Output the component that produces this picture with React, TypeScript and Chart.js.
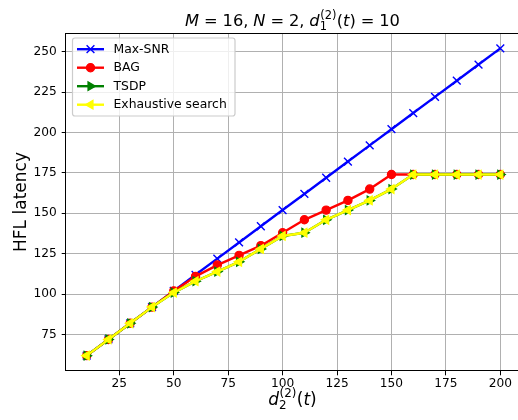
import { useEffect, useRef } from "react";
import { Chart, registerables } from "chart.js";

Chart.register(...registerables);

// ---- data ----
const xValues = [10, 20, 30, 40, 50, 60, 70, 80, 90, 100, 110, 120, 130, 140, 150, 160, 170, 180, 190, 200];
const maxSnr = [62, 72, 82, 92, 102, 112, 122, 132, 142, 152, 162, 172, 182, 192, 202, 212, 222, 232, 242, 252];
const bag = [62, 72, 82, 92, 102, 111, 118, 124, 130, 138, 146, 152, 158, 165, 174, 174, 174, 174, 174, 174];
const tsdp = [62, 72, 82, 92, 101, 108, 114, 120, 128, 136, 138, 146, 152, 158, 165, 174, 174, 174, 174, 174];
const exhaustive = [62, 72, 82, 92, 101, 108, 114, 120, 128, 136, 138, 146, 152, 158, 165, 174, 174, 174, 174, 174];
const xTicks = [25, 50, 75, 100, 125, 150, 175, 200];
const yTicks = [75, 100, 125, 150, 175, 200, 225, 250];
const seriesLabels = ["Max-SNR", "BAG", "TSDP", "Exhaustive search"];
const yAxisLabel = "HFL latency";

const FONT = '"DejaVu Sans"';

type Seg = { t?: string; it?: boolean; gap?: number; sup?: string; sub?: string };

function drawMath(ctx: CanvasRenderingContext2D, segs: Seg[], cx: number, base: number, size: number) {
  const sc = size * 0.7;
  const fR = (s: number) => `${s}px ${FONT}`;
  const fI = (s: number) => `italic ${s}px ${FONT}`;
  const widthOf = (seg: Seg) => {
    if (seg.gap !== undefined) return seg.gap * size;
    if (seg.sup !== undefined) {
      ctx.font = fR(sc);
      const a = ctx.measureText(seg.sup).width;
      const b = ctx.measureText(seg.sub || "").width;
      return Math.max(a, b) + size * 0.05;
    }
    ctx.font = seg.it ? fI(size) : fR(size);
    return ctx.measureText(seg.t || "").width;
  };
  const total = segs.reduce((s, g) => s + widthOf(g), 0);
  let x = cx - total / 2;
  ctx.fillStyle = "#000";
  ctx.textAlign = "left";
  ctx.textBaseline = "alphabetic";
  for (const seg of segs) {
    const w = widthOf(seg);
    if (seg.sup !== undefined) {
      ctx.font = fR(sc);
      ctx.fillText(seg.sup, x + size * 0.03, base - size * 0.45);
      ctx.fillText(seg.sub || "", x, base + size * 0.24);
    } else if (seg.t) {
      ctx.font = seg.it ? fI(size) : fR(size);
      ctx.fillText(seg.t, x, base);
    }
    x += w;
  }
}

const G = 0.3;
const titleSegs: Seg[] = [
  { t: "M", it: true }, { gap: G }, { t: "=" }, { gap: G }, { t: "16," }, { gap: G },
  { t: "N", it: true }, { gap: G }, { t: "=" }, { gap: G }, { t: "2," }, { gap: G },
  { t: "d", it: true }, { sup: "(2)", sub: "1" }, { t: "(" }, { t: "t", it: true }, { t: ")" },
  { gap: G }, { t: "=" }, { gap: G }, { t: "10" },
];
const xLabelSegs: Seg[] = [
  { t: "d", it: true }, { sup: "(2)", sub: "2" }, { t: "(" }, { t: "t", it: true }, { t: ")" },
];

function drawMarker(ctx: CanvasRenderingContext2D, style: string, rot: number, x: number, y: number, r: number, color: string, bw: number) {
  ctx.save();
  ctx.fillStyle = color;
  ctx.strokeStyle = color;
  ctx.lineWidth = bw;
  ctx.beginPath();
  if (style === "circle") {
    ctx.arc(x, y, r, 0, Math.PI * 2);
    ctx.fill();
    ctx.stroke();
  } else if (style === "crossRot") {
    const d = r * Math.SQRT1_2;
    ctx.moveTo(x - d, y - d); ctx.lineTo(x + d, y + d);
    ctx.moveTo(x + d, y - d); ctx.lineTo(x - d, y + d);
    ctx.stroke();
  } else if (style === "triangle") {
    let a = (rot * Math.PI) / 180;
    ctx.moveTo(x + Math.sin(a) * r, y - Math.cos(a) * r);
    a += (2 * Math.PI) / 3;
    ctx.lineTo(x + Math.sin(a) * r, y - Math.cos(a) * r);
    a += (2 * Math.PI) / 3;
    ctx.lineTo(x + Math.sin(a) * r, y - Math.cos(a) * r);
    ctx.closePath();
    ctx.fill();
    ctx.stroke();
  }
  ctx.restore();
}

const decorPlugin = {
  id: "decor",
  afterDatasetsDraw(chart: any) {
    const ctx: CanvasRenderingContext2D = chart.ctx;
    const a = chart.chartArea;
    ctx.save();
    // frame
    ctx.strokeStyle = "#000";
    ctx.lineWidth = 1;
    ctx.strokeRect(Math.round(a.left) - 0.5, Math.round(a.top) + 0.5, Math.round(a.right - a.left) + 1, Math.round(a.bottom - a.top) - 1);
    // title
    drawMath(ctx, titleSegs, 292.5, 26, 16.3);
    // x label
    drawMath(ctx, xLabelSegs, 292.5, 404.5, 17);
    // y label
    ctx.save();
    ctx.translate(25.7, 202);
    ctx.rotate(-Math.PI / 2);
    ctx.font = `17px ${FONT}`;
    ctx.fillStyle = "#000";
    ctx.textAlign = "center";
    ctx.textBaseline = "alphabetic";
    ctx.fillText(yAxisLabel, 0, 0);
    ctx.restore();
    // legend
    const bx = 72.5, by = 38, bw = 162.5, bh = 78, rr = 2.5;
    ctx.beginPath();
    ctx.moveTo(bx + rr, by);
    ctx.lineTo(bx + bw - rr, by);
    ctx.arcTo(bx + bw, by, bx + bw, by + rr, rr);
    ctx.lineTo(bx + bw, by + bh - rr);
    ctx.arcTo(bx + bw, by + bh, bx + bw - rr, by + bh, rr);
    ctx.lineTo(bx + rr, by + bh);
    ctx.arcTo(bx, by + bh, bx, by + bh - rr, rr);
    ctx.lineTo(bx, by + rr);
    ctx.arcTo(bx, by, bx + rr, by, rr);
    ctx.closePath();
    ctx.fillStyle = "rgba(255,255,255,0.8)";
    ctx.fill();
    ctx.strokeStyle = "#cccccc";
    ctx.lineWidth = 1.2;
    ctx.stroke();
    chart.data.datasets.forEach((ds: any, i: number) => {
      const y = 49.2 + i * 18.5;
      ctx.strokeStyle = ds.borderColor;
      ctx.lineWidth = ds.borderWidth;
      ctx.beginPath();
      ctx.moveTo(77, y);
      ctx.lineTo(104, y);
      ctx.stroke();
      drawMarker(ctx, ds.pointStyle, ds.pointRotation || 0, 90.5, y, ds.pointRadius, ds.borderColor, ds.pointBorderWidth);
      ctx.font = `12.4px ${FONT}`;
      ctx.fillStyle = "#000";
      ctx.textAlign = "left";
      ctx.textBaseline = "middle";
      ctx.fillText(ds.label, 113.5, y + 0.5);
    });
    ctx.restore();
  },
};

export default function App() {
  const ref = useRef<HTMLCanvasElement>(null);
  useEffect(() => {
    if (!ref.current) return;
    const mk = (vals: number[]) => xValues.map((x, i) => ({ x, y: vals[i] }));
    const tickFont = { family: FONT, size: 12.2 };
    const chart = new Chart(ref.current, {
      type: "line",
      data: {
        datasets: [
          {
            label: seriesLabels[0], data: mk(maxSnr), borderColor: "#0000ff", backgroundColor: "#0000ff",
            borderWidth: 2.4, pointStyle: "crossRot", pointRadius: 5.5, pointBorderWidth: 1.4, order: 3,
            borderJoinStyle: "round",
          },
          {
            label: seriesLabels[1], data: mk(bag), borderColor: "#ff0000", backgroundColor: "#ff0000",
            borderWidth: 2.4, pointStyle: "circle", pointRadius: 4.1, pointBorderWidth: 1.2, order: 2,
            borderJoinStyle: "round",
          },
          {
            label: seriesLabels[2], data: mk(tsdp), borderColor: "#008000", backgroundColor: "#008000",
            borderWidth: 2.4, pointStyle: "triangle", pointRotation: 90, pointRadius: 5, pointBorderWidth: 1.2, order: 1,
            borderJoinStyle: "round",
          },
          {
            label: seriesLabels[3], data: mk(exhaustive), borderColor: "#ffff00", backgroundColor: "#ffff00",
            borderWidth: 2.4, pointStyle: "triangle", pointRotation: 270, pointRadius: 5, pointBorderWidth: 1.2, order: 0,
            borderJoinStyle: "round",
          },
        ] as any,
      },
      options: {
        responsive: false,
        animation: false,
        devicePixelRatio: 1,
        events: [],
        layout: { padding: { left: 0, right: 9, top: 33, bottom: 0 } },
        plugins: { legend: { display: false }, title: { display: false }, tooltip: { enabled: false } },
        scales: {
          x: {
            type: "linear",
            min: 0.5,
            max: 209.5,
            afterBuildTicks: (s: any) => { s.ticks = xTicks.map((v) => ({ value: v })); },
            afterFit: (s: any) => { s.height = 49; },
            grid: { color: "#b0b0b0", lineWidth: 1, tickLength: 4.3, tickColor: "#000", drawTicks: true },
            border: { display: false },
            ticks: { font: tickFont, color: "#000", padding: 1.6, maxRotation: 0, autoSkip: false, callback: (v: any) => String(v) },
          },
          y: {
            type: "linear",
            min: 52.5,
            max: 261.5,
            afterBuildTicks: (s: any) => { s.ticks = yTicks.map((v) => ({ value: v })); },
            afterFit: (s: any) => { s.width = 66; },
            grid: { color: "#b0b0b0", lineWidth: 1, tickLength: 4.3, tickColor: "#000", drawTicks: true },
            border: { display: false },
            ticks: { font: tickFont, color: "#000", padding: 5, autoSkip: false, callback: (v: any) => String(v) },
          },
        },
      } as any,
      plugins: [decorPlugin],
    });
    return () => chart.destroy();
  }, []);
  return (
    <div style={{ position: "fixed", left: 0, top: 0, width: 518, height: 420, overflow: "hidden", background: "#fff" }}>
      <canvas ref={ref} width={530} height={420} style={{ display: "block" }} />
    </div>
  );
}
